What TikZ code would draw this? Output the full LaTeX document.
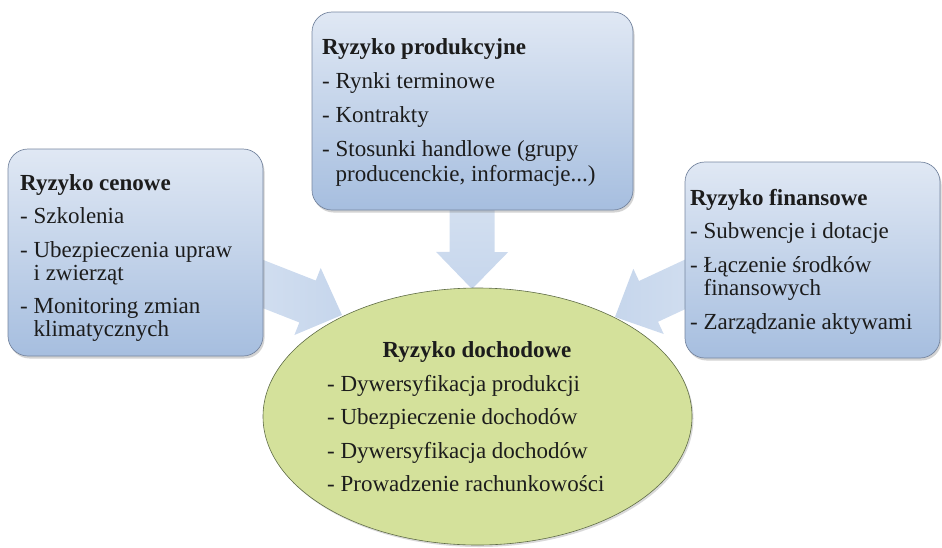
\documentclass[tikz,border=0pt]{standalone}
\usepackage{fontspec}
\setmainfont{Liberation Serif}
\usetikzlibrary{shapes.geometric,shadows,calc,backgrounds}
\definecolor{boxtop}{RGB}{224,232,244}
\definecolor{boxbot}{RGB}{166,190,223}
\definecolor{boxline}{RGB}{118,134,160}
\definecolor{ellfill}{RGB}{212,225,155}
\definecolor{ellline}{RGB}{95,108,70}
\definecolor{arrA}{RGB}{226,234,245}
\definecolor{arrB}{RGB}{198,214,236}
\definecolor{txt}{RGB}{28,28,28}
\tikzset{
  riskbox/.style={draw=boxline, line width=0.7pt, rounded corners=20pt,
    top color=boxtop, bottom color=boxbot, inner sep=0pt,
    drop shadow={shadow xshift=1.5pt, shadow yshift=-2.5pt, opacity=0.35}},
  incomeell/.style={ellipse, draw=ellline, line width=0.6pt, fill=ellfill, inner sep=0pt,
    drop shadow={shadow xshift=1.5pt, shadow yshift=-2pt, opacity=0.3}},
  listtext/.style={font=\fontsize{23}{23}\selectfont, align=left, inner sep=0pt, text=txt},
  elltext/.style={font=\fontsize{23}{33.5}\selectfont, align=left, inner sep=0pt, text=txt},
  blockarr/.style={shade}
}
\newcommand\blockarrow[3]{%
  \coordinate (#2h) at ($(#2)!37pt!(#1)$);
  \path[blockarr,#3]
    ($(#1)!22.5pt!90:(#2)$) -- ($(#2h)!22.5pt!90:(#2)$) -- ($(#2h)!36pt!90:(#2)$) --
    (#2) --
    ($(#2h)!36pt!-90:(#2)$) -- ($(#2h)!22.5pt!-90:(#2)$) -- ($(#1)!22.5pt!-90:(#2)$) -- cycle;
}
\begin{document}
\begin{tikzpicture}[x=1pt,y=-1pt]
\useasboundingbox (0,0) rectangle (942,547);

% boxes
\node[riskbox, minimum width=255pt, minimum height=207pt] (lbox) at (135.5,252.5) {};
\node[riskbox, minimum width=321pt, minimum height=198pt] (tbox) at (472.5,111) {};
\node[riskbox, minimum width=255pt, minimum height=196pt] (rbox) at (812.5,260) {};
\node[incomeell, minimum width=429pt, minimum height=257pt] (ell) at (477.5,416.5) {};

% arrow sources (hidden behind the boxes) and tips
\coordinate (srcT) at (tbox.center);
\coordinate (srcL) at ($(lbox.center)+(0,-18.5)$);
\coordinate (srcR) at ($(rbox.center)+(0,-35)$);
\coordinate (tipT) at (472,289);
\coordinate (tipL) at (342,315);
\coordinate (tipR) at (615,317);

\begin{pgfonlayer}{background}
  \blockarrow{srcT}{tipT}{top color=arrA, bottom color=arrB}
  \blockarrow{srcL}{tipL}{left color=arrA, right color=arrB}
  \blockarrow{srcR}{tipR}{left color=arrB, right color=arrA}
\end{pgfonlayer}

% texts (anchor = baseline of the last line)
\node[listtext, anchor=base west] (ltxt) at (20,336.5) {%
  \textbf{Ryzyko cenowe}\\[10.5pt]
  - Szkolenia\\[10.5pt]
  - Ubezpieczenia upraw\\
  \phantom{- }i zwierząt\\[10.5pt]
  - Monitoring zmian\\
  \phantom{- }klimatycznych};

\node[listtext, anchor=base west] (ttxt) at (322,181) {%
  \textbf{Ryzyko produkcyjne}\\[11pt]
  - Rynki terminowe\\[11pt]
  - Kontrakty\\[11pt]
  - Stosunki handlowe (grupy\\[1.5pt]
  \phantom{- }producenckie, informacje...)};

\node[listtext, anchor=base west] (rtxt) at (690,329) {%
  \textbf{Ryzyko finansowe}\\[10.5pt]
  - Subwencje i dotacje\\[10.5pt]
  - Łączenie środków\\
  \phantom{- }finansowych\\[11pt]
  - Zarządzanie aktywami};

\node[elltext, anchor=base, font=\fontsize{23}{24}\bfseries] (etitle) at (477,357) {Ryzyko dochodowe};
\node[elltext, anchor=base west] (etxt) at (327,491.5) {%
  - Dywersyfikacja produkcji\\
  - Ubezpieczenie dochodów\\
  - Dywersyfikacja dochodów\\
  - Prowadzenie rachunkowości};
\end{tikzpicture}
\end{document}
